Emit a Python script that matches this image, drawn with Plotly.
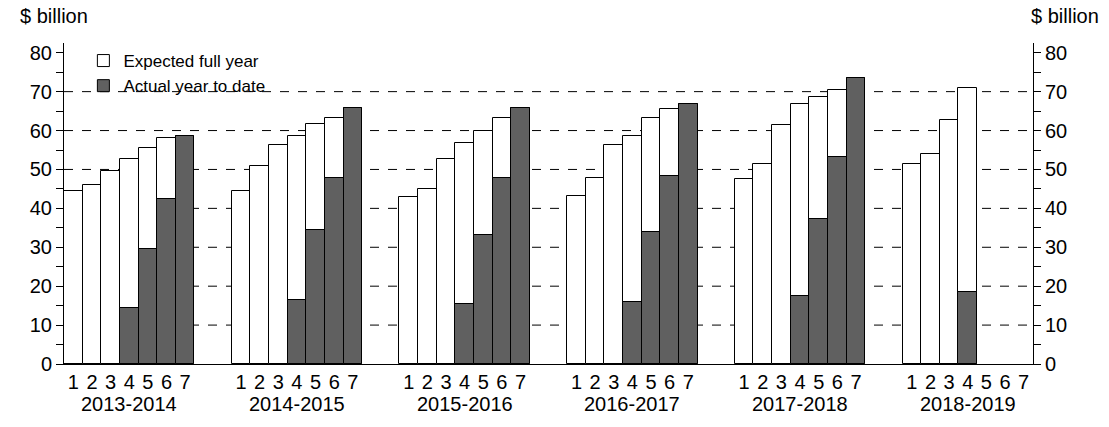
import plotly.graph_objects as go

years = ["2013-2014", "2014-2015", "2015-2016", "2016-2017", "2017-2018", "2018-2019"]
months = [1, 2, 3, 4, 5, 6, 7]
expected = [
    [44.4, 45.9, 49.7, 52.8, 55.6, 58.2, 58.5],
    [44.4, 50.8, 56.2, 58.5, 61.8, 63.3, 65.9],
    [42.8, 45.1, 52.8, 56.7, 59.9, 63.1, 65.9],
    [43.3, 47.7, 56.2, 58.7, 63.1, 65.6, 66.9],
    [47.6, 51.5, 61.5, 66.7, 68.5, 70.3, 73.6],
    [51.5, 54.1, 62.6, 71.0, None, None, None],
]
actual = [
    [None, None, None, 14.4, 29.5, 42.3, 58.5],
    [None, None, None, 16.4, 34.4, 47.9, 65.9],
    [None, None, None, 15.4, 33.1, 47.7, 65.9],
    [None, None, None, 15.9, 33.8, 48.2, 66.9],
    [None, None, None, 17.4, 37.2, 53.1, 73.6],
    [None, None, None, 18.5, None, None, None],
]
gridlines = [10, 20, 30, 40, 50, 60, 70]

GAP = 9
xs, ex, ac, tt = [], [], [], []
for g in range(len(years)):
    for i, m in enumerate(months):
        xs.append(g * GAP + m)
        ex.append(expected[g][i])
        ac.append(actual[g][i])
        tt.append(str(m))

FS = 20
fig = go.Figure()
fig.add_bar(x=xs, y=ex, width=1, name="Expected full year",
            marker=dict(color="white", line=dict(color="black", width=1)))
fig.add_bar(x=xs, y=ac, width=1, name="Actual year to date",
            marker=dict(color="#606060", line=dict(color="black", width=1)))
fig.add_scatter(x=[xs[0]], y=[None], yaxis="y2", showlegend=False, hoverinfo="skip")

for v in gridlines:
    fig.add_shape(type="line", xref="paper", x0=0, x1=1, y0=v, y1=v,
                  line=dict(color="black", width=1, dash="dash"), layer="below")

for g, yr in enumerate(years):
    fig.add_annotation(x=g * GAP + 4, y=0, yref="paper", yshift=-27, text=yr, showarrow=False,
                       yanchor="top", font=dict(size=FS, color="black"))

fig.add_annotation(x=0, xref="paper", y=1.0, yref="paper", yshift=14, xshift=-46,
                   text="$ billion", showarrow=False, xanchor="left", yanchor="bottom",
                   font=dict(size=FS, color="black"))
fig.add_annotation(x=1.0, xref="paper", y=1.0, yref="paper", yshift=14, xshift=-4,
                   text="$ billion", showarrow=False, xanchor="left", yanchor="bottom",
                   font=dict(size=FS, color="black"))

yax = dict(range=[0, 82.5], tickvals=[0, 10, 20, 30, 40, 50, 60, 70, 80], showgrid=False,
           ticks="outside", ticklen=7, tickcolor="black", showline=True, linecolor="black",
           minor=dict(dtick=5, ticks="outside", ticklen=7, tickcolor="black", showgrid=False),
           tickfont=dict(size=FS, color="black"), zeroline=False)
fig.update_layout(
    width=1109, height=427, barmode="overlay", bargap=0,
    plot_bgcolor="white", paper_bgcolor="white",
    font=dict(family="Liberation Sans, Arial", color="black"),
    margin=dict(l=56, r=84, t=35, b=71),
    xaxis=dict(range=[0.5, 5 * GAP + 7.5], tickvals=xs, ticktext=tt, ticks="",
               showline=True, linecolor="black", showgrid=False, zeroline=False,
               tickfont=dict(size=FS, color="black")),
    yaxis=yax,
    yaxis2=dict(yax, overlaying="y", side="right"),
    legend=dict(x=0.02, y=1.0, xanchor="left", yanchor="top", bgcolor="rgba(0,0,0,0)",
                font=dict(size=17, color="black"), tracegroupgap=0, itemwidth=30),
    showlegend=True,
)
fig.write_html("out.html")
